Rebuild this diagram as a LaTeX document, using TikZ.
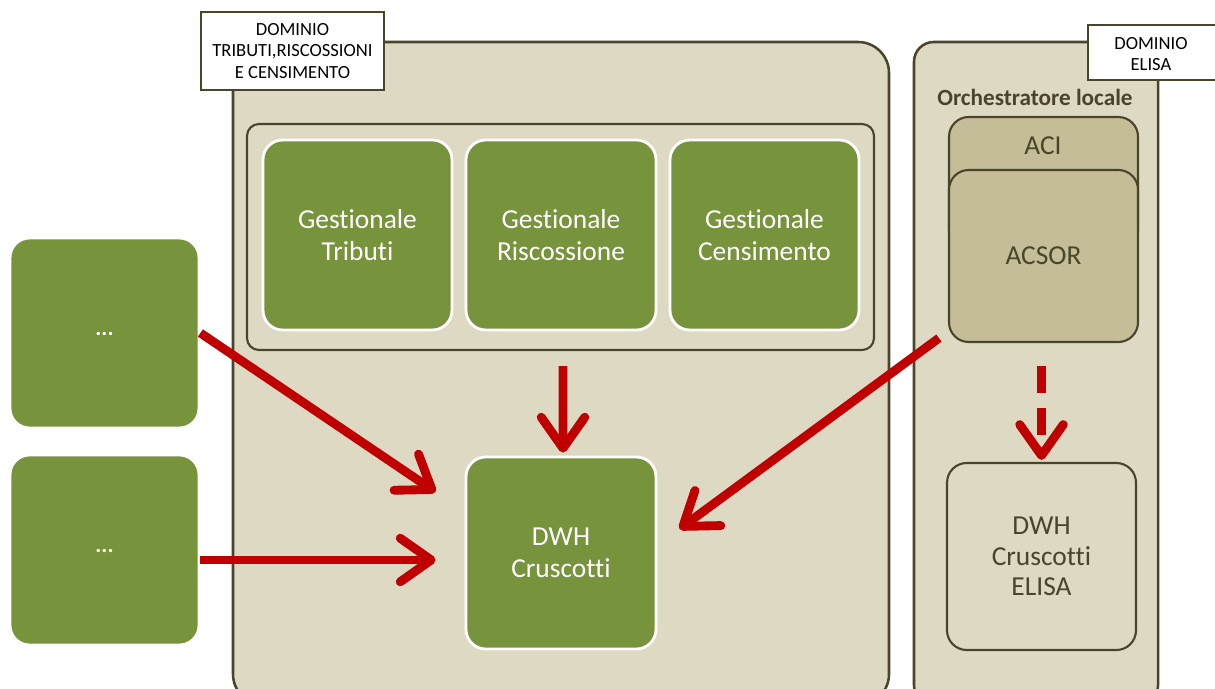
\documentclass[tikz,border=0pt]{standalone}
\usepackage{fontspec}
\setmainfont{Carlito}[Ligatures=CommonOff]
\usetikzlibrary{arrows.meta,calc}
\definecolor{tan}{HTML}{DDD9C3}
\definecolor{tandark}{HTML}{C4BD97}
\definecolor{olive}{HTML}{4A452A}
\definecolor{leaf}{HTML}{77933C}
\definecolor{flow}{HTML}{C00000}
\begin{document}
\begin{tikzpicture}[x=0.025cm,y=-0.025cm,
  size/.style 2 args={minimum width=#1*0.025cm, minimum height=#2*0.025cm, inner sep=0pt},
  area/.style={draw=olive, fill=tan, line width=1.8pt},
  tag/.style={draw=olive, fill=white, line width=2pt,
    align=center, font=\fontsize{13.2}{15.4}\selectfont, text=black},
  group/.style={draw=olive, line width=1.5pt, rounded corners=8.5pt},
  app/.style={draw=white, fill=leaf, line width=2pt, rounded corners=14pt,
    align=center, text=white, font=\fontsize{19.5}{22.5}\selectfont},
  dots/.style={app, font=\bfseries\fontsize{16}{18}\selectfont},
  layer/.style={draw=olive, fill=tandark, line width=1.5pt, rounded corners=14pt,
    text=olive, font=\fontsize{19.5}{22.5}\selectfont},
  store/.style={draw=olive, fill=tan, line width=1.5pt, rounded corners=14pt,
    align=center, text=olive, font=\fontsize{19.5}{21.8}\selectfont},
  flowarrow/.style={draw=flow, line width=6.3pt,
    -{Straight Barb[length=22pt,width=31pt,round]}}
]
\clip (0,0) rectangle (1215,689);
\fill[white] (0,0) rectangle (1215,689);

% domain containers
\node[area, rounded corners=22pt, size={656}{663}] (dtri) at (561,373.5) {};
\node[area, rounded corners=14pt, size={244}{663}] (delisa) at (1036,373.5) {};

% domain tags
\node[tag, size={183}{78}] (tagtri) at (292.5,51) {DOMINIO\\TRIBUTI,RISCOSSIONI\\E CENSIMENTO};
\node[tag, size={137}{55}] (tagelisa) at (1156.5,52.5) {};
\node[align=center, font=\fontsize{13.2}{15.4}\selectfont] (tagelisatext) at (1151,54) {DOMINIO\\ELISA};

% management applications
\node[group, size={627}{226}] (gest) at (560.5,237) {};
\node[app, size={189}{190}] (gtri) at (357.5,235) {Gestionale\\Tributi};
\node[app, size={190}{190}] (gris) at (561,235) {Gestionale\\Riscossione};
\node[app, size={189}{190}] (gcen) at (764.5,235) {Gestionale\\Censimento};

% external sources
\node[dots, size={189}{190}] (ext1) at (104.5,333) {\raisebox{-3pt}{...}};
\node[dots, size={189}{190}] (ext2) at (104.5,550) {\raisebox{-3pt}{...}};

% data warehouse
\node[app, size={190}{192}] (dwh) at (561,553) {DWH\\Cruscotti};

% local orchestrator
\node[font=\bfseries\fontsize{16.5}{19}\selectfont, text=olive] (orch) at (1035,97) {Orchestratore locale};
\node[layer, size={189}{133}] (aci) at (1043.5,183.5) {};
\node[text=olive, font=\fontsize{19.5}{22.5}\selectfont] (acilabel) at (1043,146) {ACI};
\node[layer, size={189}{172}] (acsor) at (1043.5,256) {ACSOR};
\node[store, size={189}{187}] (dwhelisa) at (1041.5,556.5) {DWH\\Cruscotti\\ELISA};

% data flows
\draw[flowarrow] (ext1.east) -- ($(dwh.west)+(-29,-61)$);
\draw[flowarrow] ($(ext2.east)+(0,10)$) -- ($(dwh.west)+(-29,7)$);
\draw[flowarrow] ($(gest.south)+(2.5,15)$) -- ($(dwh.north)+(2,-3)$);
\draw[flowarrow] ($(acsor.south west)+(-9,-5)$) -- ($(dwh.east)+(22,-24)$);
\draw[flowarrow, dash pattern=on 19pt off 11pt] ($(acsor.south)+(-2,23)$) -- ($(dwhelisa.north)+(0,-2)$);
\end{tikzpicture}
\end{document}
